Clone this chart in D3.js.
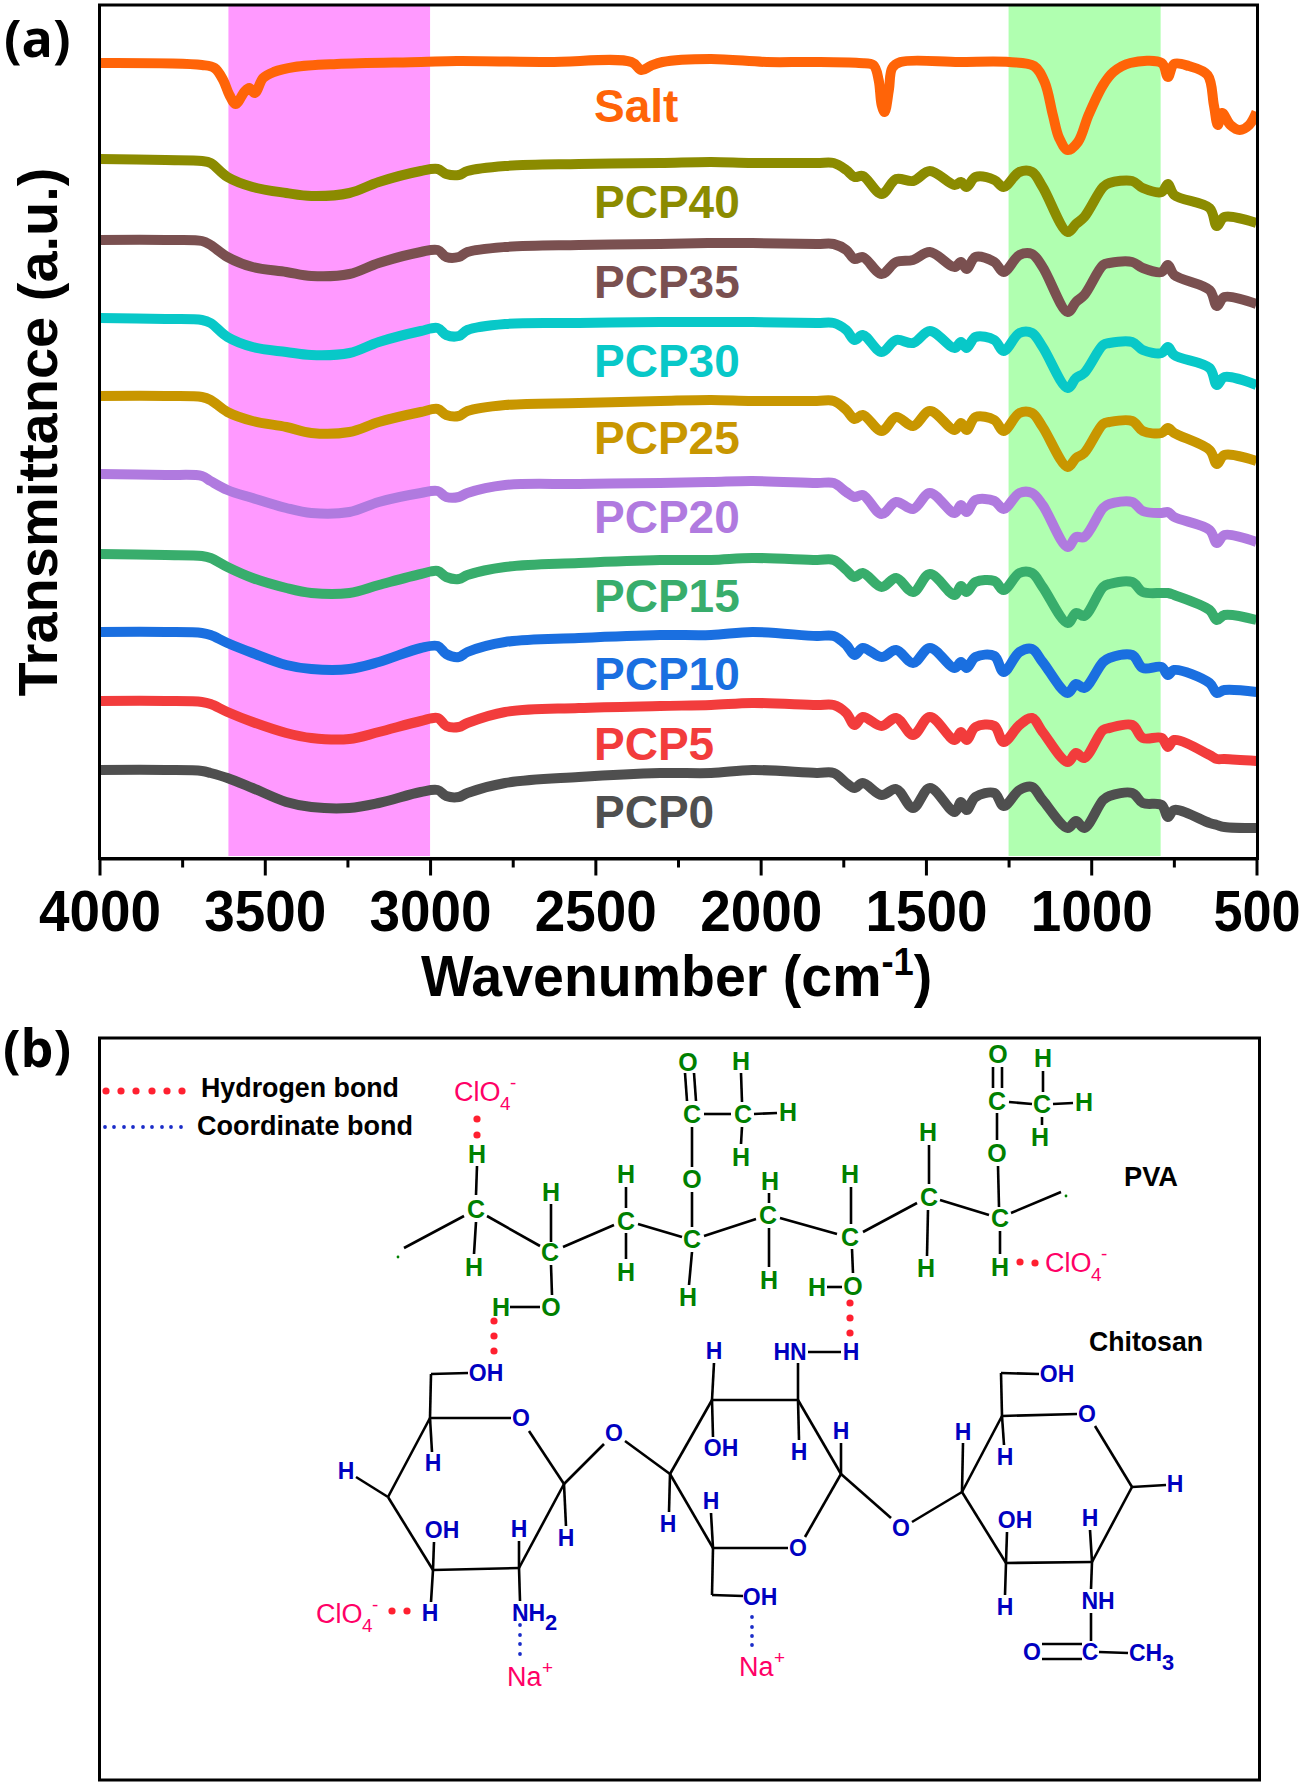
<!DOCTYPE html>
<html>
<head>
<meta charset="utf-8">
<script src="https://cdn.jsdelivr.net/npm/d3@7"></script>
<style>
  html, body { margin: 0; padding: 0; background: #fff; }
  svg { display: block; }
  text { font-family: "Liberation Sans", Arial, sans-serif; }
</style>
</head>
<body>
<svg id="figure" width="1305" height="1785"></svg>
<script>
// === SPECTRA DATA (wavenumber in cm-1, transmittance in stacked a.u.) ===

const wavenumbers = [4000, 3800, 3690, 3664, 3613, 3537, 3435, 3359, 3244, 3155, 3028, 2977, 2951, 2913, 2887, 2773, 2550, 2304,
    2150, 2025, 1830, 1779, 1741, 1716, 1691, 1634, 1590, 1539, 1488, 1413, 1394, 1377, 1350, 1293, 1265, 1217, 1179, 1147,
    1071, 1046, 1021, 964, 945, 876, 844, 787, 768, 749, 642, 620, 597, 500];

const pcp40 = [700,699,698,696,682,672,666,663,666,677,688,690,685,684,688,693,695,696,697,696,696,696,689,682,683,665,680,678,688,674,677,672,682,679,672,687,687,672,627,635,642,672,676,678,671,667,675,664,651,633,642,636];
const pcp35 = [619,619,618,614,602,592,587,583,585,596,607,609,602,602,607,612,614,615,616,616,615,615,609,600,602,585,597,599,607,592,597,590,602,597,587,604,605,592,547,557,564,594,596,597,591,587,594,584,569,553,562,555];
const pcp30 = [541,540,539,536,522,512,507,504,506,517,528,531,524,523,529,535,536,537,537,537,536,536,529,519,524,507,519,516,528,511,517,511,522,519,508,526,526,512,471,481,486,514,516,517,509,506,512,504,491,474,482,474];
const pcp25 = [463,463,462,459,447,438,432,426,427,437,447,450,444,443,448,454,456,458,459,458,458,458,449,440,444,428,442,433,448,429,436,429,442,439,428,446,446,432,392,401,406,435,437,438,428,426,431,426,409,395,404,398];
const pcp20 = [385,384,383,378,369,361,351,346,347,357,366,368,362,362,366,374,375,376,377,378,376,376,367,362,364,345,357,350,366,346,354,347,359,358,350,366,366,354,312,322,322,351,355,357,348,346,347,342,329,316,324,317];
const pcp15 = [305,304,303,301,292,281,271,266,266,274,285,288,282,280,284,292,296,299,299,301,299,299,289,282,286,272,281,267,285,264,273,267,277,278,269,286,286,272,236,246,243,272,275,277,267,266,266,264,249,239,244,239];
const pcp10 = [227,227,226,224,216,206,194,190,190,197,211,213,205,202,207,217,221,224,224,227,223,223,214,204,211,202,209,196,211,191,197,191,202,203,187,207,210,197,166,175,171,197,201,204,191,192,184,189,176,166,169,167];
const pcp5 = [158,158,157,155,147,137,126,121,120,127,138,141,133,132,136,147,151,153,154,156,154,154,146,134,142,133,141,124,142,119,127,119,132,133,117,134,141,127,97,106,101,129,131,134,121,121,112,119,104,100,100,98];
const pcp0 = [89,89,88,86,81,71,57,52,51,56,67,69,63,62,66,76,82,86,86,89,86,86,76,71,76,64,70,51,71,47,57,49,62,66,53,69,72,59,31,38,31,59,63,66,56,54,42,49,36,34,32,31];

// the salt has its own sharp bands, so it gets its own wavenumber list
const saltWavenumbers = [4000,3690,3652,3626,3607,3588,3562,3547,3530,3505,3473,3410,3282,3027,2919,2645,2391,2361,2333,2297,2152,1981,1850,1703,1659,1643,1634,1625,1612,1602,1577,1400,1248,1173,1141,1116,1097,1071,1040,1008,964,933,882,787,768,749,705,648,629,617,604,579,551,522,500];
const salt = [796,794,791,779,764,755,767,771,766,781,787,792,795,797,798,797,797,789,793,797,800,797,797,796,794,779,754,747,769,791,797,797,797,793,777,744,721,709,717,744,774,787,796,796,782,795,793,784,754,734,746,734,729,734,747];

const seriesNames = ["Salt", "PCP40", "PCP35", "PCP30", "PCP25", "PCP20", "PCP15", "PCP10", "PCP5", "PCP0"];
const seriesColors = ["#ff6408", "#8b8b00", "#7a5050", "#08c8c8", "#c89600", "#b07adf", "#38ad6c", "#1a6fe0", "#f23c3c", "#4f4f4f"];
const seriesValues = [salt, pcp40, pcp35, pcp30, pcp25, pcp20, pcp15, pcp10, pcp5, pcp0];
const seriesX = [saltWavenumbers, wavenumbers, wavenumbers, wavenumbers, wavenumbers, wavenumbers, wavenumbers, wavenumbers, wavenumbers, wavenumbers];
const labelHeights = [737, 641, 561, 482, 405, 326, 247, 169, 99, 31];

const bandRanges = [[3610, 3000], [1250, 790]];
const bandColors = ["#ff99ff", "#b0ffb0"];
const majorTicks = [4000, 3500, 3000, 2500, 2000, 1500, 1000, 500];
const minorTicks = [3750, 3250, 2750, 2250, 1750, 1250, 750];

// === SCHEME DATA FOR PANEL (b), drawn in page pixels ===

const pvaAtoms = [
    ["H",477,1154],["C",476,1209],["H",474,1267],["C",550,1252],["H",551,1192],["H",501,1307],["O",551,1307],
    ["C",626,1221],["H",626,1174],["H",626,1272],["O",688,1062],["C",692,1114],["C",743,1114],["H",741,1061],
    ["H",788,1112],["H",741,1157],["O",692,1179],["C",692,1239],["H",688,1297],["C",768,1215],["H",770,1181],
    ["H",769,1280],["C",850,1237],["H",850,1174],["O",853,1286],["H",817,1287],["C",929,1197],["H",928,1132],
    ["H",926,1268],["C",1000,1218],["O",997,1153],["H",1000,1267],["C",997,1101],["O",998,1054],["C",1042,1104],
    ["H",1043,1058],["H",1084,1102],["H",1040,1137]
];
const chitosanAtoms = [
    ["OH",486,1373],["O",521,1418],["H",433,1463],["H",346,1471],["OH",442,1530],["H",430,1613],["H",519,1529],
    ["H",566,1538],["O",614,1433],["H",668,1524],["H",714,1351],["OH",721,1448],["H",711,1501],["OH",760,1597],
    ["HN",790,1352],["H",851,1352],["H",799,1452],["H",841,1431],["O",798,1548],["O",901,1528],["H",963,1432],
    ["OH",1057,1374],["O",1087,1414],["H",1005,1457],["H",1175,1484],["OH",1015,1520],["H",1005,1607],["H",1090,1518],
    ["NH",1098,1601],["C",1090,1652],["O",1032,1652]
];
const bonds = [
    // PVA chain
    [404,1248,464,1216],[477,1166,476,1195],[476,1222,474,1254],[487,1216,540,1246],[551,1204,551,1242],
    [551,1265,552,1295],[510,1307,540,1307],[563,1247,614,1225],[626,1187,626,1208],[626,1233,626,1259],
    [638,1224,682,1237],[685,1073,687,1101],[694,1073,696,1101],[704,1114,731,1114],[741,1073,742,1102],
    [754,1114,777,1113],[742,1127,741,1144],[692,1127,692,1167],[692,1192,692,1227],[692,1252,689,1285],
    [704,1236,756,1219],[769,1193,769,1203],[769,1228,769,1267],[780,1218,837,1234],[851,1187,851,1224],
    [852,1249,853,1273],[827,1287,842,1287],[863,1232,917,1203],[929,1145,929,1184],[928,1210,927,1256],
    [940,1200,989,1215],[998,1166,999,1207],[997,1113,997,1140],[993,1067,993,1088],[1002,1067,1002,1088],
    [1009,1102,1032,1104],[1043,1071,1043,1092],[1053,1104,1073,1103],[1042,1117,1042,1125],[1011,1213,1061,1192],
    [1000,1231,1000,1254],
    // chitosan rings
    [468,1373,431,1374],[431,1374,430,1418],[430,1418,511,1418],[430,1418,432,1452],[430,1418,388,1497],
    [388,1497,356,1477],[388,1497,433,1570],[433,1570,434,1542],[433,1570,519,1568],[433,1570,431,1602],
    [519,1568,519,1541],[519,1568,564,1484],[519,1568,520,1601],[529,1431,564,1484],[564,1484,566,1526],
    [564,1484,604,1444],[625,1441,670,1474],[670,1474,712,1400],[670,1474,669,1512],[670,1474,713,1548],
    [712,1400,714,1363],[712,1400,713,1437],[712,1400,798,1400],[713,1548,711,1513],[713,1548,788,1548],
    [713,1548,712,1595],[712,1595,743,1596],[808,1352,841,1352],[798,1363,798,1400],[798,1400,799,1440],
    [798,1400,841,1474],[841,1474,841,1443],[841,1474,805,1537],[841,1474,891,1518],[912,1522,962,1492],
    [962,1492,1002,1416],[962,1492,963,1443],[962,1492,1006,1563],[1002,1416,1001,1373],[1001,1373,1039,1374],
    [1002,1416,1077,1414],[1002,1416,1004,1445],[1095,1426,1132,1487],[1132,1487,1166,1485],[1132,1487,1092,1562],
    [1006,1563,1092,1562],[1006,1563,1007,1532],[1006,1563,1005,1595],[1092,1562,1090,1530],[1092,1562,1091,1589],
    [1091,1613,1091,1641],[1042,1644,1082,1644],[1042,1659,1082,1659],[1099,1652,1128,1653]
];
const hydrogenDots = [
    [106,1091],[121,1091],[136,1091],[152,1091],[167,1091],[182,1091],[477,1119],[477,1135],
    [494,1321],[494,1336],[494,1351],[850,1303],[850,1318],[850,1333],[1020,1262],[1035,1263],
    [392,1611],[407,1611]
];
const coordinateDots = [
    [105,1127],[114,1127],[124,1127],[133,1127],[143,1127],[152,1127],[162,1127],[171,1127],[181,1127],
    [520,1625],[520,1635],[520,1644],[520,1654],[752,1617],[752,1627],[752,1636],[752,1645]
];
const strayDots = [[398,1257],[1066,1196]];
const perchlorates = [[454,1101],[1045,1272],[316,1623]];
const sodiums = [[507,1686],[739,1676]];
const blackLabels = [
    ["Hydrogen bond",201,1097,198],["Coordinate bond",197,1135,216],
    ["PVA",1124,1186,54],["Chitosan",1089,1351,114]
];

// === PANEL (a) ===

const svg = d3.select("#figure");
const x = d3.scaleLinear().domain([4000, 500]).range([99.5, 1256.5]);
const y = d3.scaleLinear().domain([0, 854]).range([859, 5]);

svg.append("g").selectAll("rect")
    .data(bandRanges).join("rect")
    .attr("x", d => x(d[0]))
    .attr("y", y(854) + 1)
    .attr("width", d => x(d[1]) - x(d[0]))
    .attr("height", y(3) - y(854) - 1)
    .attr("fill", (d, i) => bandColors[i]);

const line = d3.line().curve(d3.curveCatmullRom.alpha(0.5)).x(d => x(d[0])).y(d => y(d[1]));

svg.append("defs").append("clipPath").attr("id", "plot-clip")
    .append("rect").attr("x", 99.5).attr("y", 5).attr("width", 1158).attr("height", 854);

svg.append("g").attr("clip-path", "url(#plot-clip)").selectAll("path")
    .data(seriesNames).join("path")
    .attr("d", (d, i) => line(d3.zip(seriesX[i], seriesValues[i])))
    .attr("fill", "none")
    .attr("stroke", (d, i) => seriesColors[i])
    .attr("stroke-width", 10)
    .attr("stroke-linejoin", "round");

svg.append("g").selectAll("text")
    .data(seriesNames).join("text")
    .attr("x", 594)
    .attr("y", (d, i) => y(labelHeights[i]))
    .attr("font-size", 46).attr("font-weight", "bold")
    .attr("fill", (d, i) => seriesColors[i])
    .text(d => d);

// frame, then the axes on top of it
svg.append("rect").attr("x", 99.5).attr("y", 5).attr("width", 1158).attr("height", 853.5)
    .attr("fill", "none").attr("stroke", "#000").attr("stroke-width", 3);

const axis = svg.append("g").attr("transform", "translate(0,858.5)")
    .call(d3.axisBottom(x).tickValues(majorTicks).tickSize(17).tickSizeOuter(0).tickFormat(d3.format("d")));
axis.selectAll("line").attr("stroke-width", 3);
axis.select(".domain").attr("stroke-width", 3);
// the labels are condensed in the original, the 3 digit one a bit more
axis.selectAll("text").attr("y", 72.5).attr("dy", 0)
    .attr("font-size", 58).attr("font-weight", "bold")
    .attr("transform", d => `scale(${d === 500 ? 0.9 : 0.946},1)`)
    .style("font-family", '"Liberation Sans", Arial, sans-serif').attr("fill", "#000");

svg.append("g").attr("transform", "translate(0,858.5)")
    .call(d3.axisBottom(x).tickValues(minorTicks).tickSize(9).tickSizeOuter(0).tickFormat(""))
    .call(g => g.select(".domain").remove())
    .selectAll("line").attr("stroke-width", 3);

const xTitle = svg.append("text").attr("transform", "translate(421,996) scale(0.957,1)")
    .attr("font-size", 58).attr("font-weight", "bold");
xTitle.append("tspan").text("Wavenumber (cm");
xTitle.append("tspan").attr("dy", -21).attr("font-size", 38).text("-1");
xTitle.append("tspan").attr("dy", 21).text(")");

svg.append("text")
    .attr("transform", "translate(57,432) rotate(-90)")
    .attr("text-anchor", "middle")
    .attr("font-size", 55).attr("font-weight", "bold")
    .attr("textLength", 529).attr("lengthAdjust", "spacingAndGlyphs")
    .text("Transmittance (a.u.)");

svg.append("g").selectAll("text")
    .data([["(a)", 4, 57], ["(b)", 3, 1067]]).join("text")
    .attr("x", d => d[1]).attr("y", d => d[2])
    .attr("font-size", 52).attr("font-weight", "bold")
    .style("font-family", '"Open Sans", sans-serif')
    .text(d => d[0]);

// === PANEL (b) ===

svg.append("rect").attr("x", 99.5).attr("y", 1038).attr("width", 1160).attr("height", 742)
    .attr("fill", "none").attr("stroke", "#000").attr("stroke-width", 3);

svg.append("g").selectAll("line")
    .data(bonds).join("line")
    .attr("x1", d => d[0]).attr("y1", d => d[1])
    .attr("x2", d => d[2]).attr("y2", d => d[3])
    .attr("stroke", "#000").attr("stroke-width", 2.6);

function drawAtoms(atoms, color, size) {
    svg.append("g").selectAll("text")
        .data(atoms).join("text")
        .attr("x", d => d[1])
        .attr("y", d => d[2] + size * 0.36)
        .attr("text-anchor", "middle")
        .attr("font-size", size).attr("font-weight", "bold")
        .attr("fill", color)
        .text(d => d[0]);
}
drawAtoms(pvaAtoms, "#008000", 25);
drawAtoms(chitosanAtoms, "#0000c0", 23);

function drawDots(dots, color, r) {
    svg.append("g").selectAll("circle")
        .data(dots).join("circle")
        .attr("cx", d => d[0]).attr("cy", d => d[1]).attr("r", r)
        .attr("fill", color);
}
drawDots(hydrogenDots, "#ff2030", 3.6);
drawDots(coordinateDots, "#1a2cc8", 1.9);
drawDots(strayDots, "#008000", 1.4);

svg.append("g").selectAll("text")
    .data(blackLabels).join("text")
    .attr("x", d => d[1]).attr("y", d => d[2])
    .attr("font-size", 28).attr("font-weight", "bold")
    .attr("textLength", d => d[3]).attr("lengthAdjust", "spacingAndGlyphs")
    .text(d => d[0]);

// small formula helper: main text plus optional subscript and superscript
function drawFormula(px, py, main, width, sub, sup, color, size, weight, subScale) {
    const g = svg.append("g").attr("fill", color).attr("font-weight", weight);
    g.append("text").attr("x", px).attr("y", py).attr("font-size", size).text(main);
    if (sub) g.append("text").attr("x", px + width).attr("y", py + 9).attr("font-size", size * subScale).text(sub);
    if (sup) g.append("text").attr("x", px + width + (sub ? 10 : 2)).attr("y", py - 12).attr("font-size", size * 0.7).text(sup);
}
perchlorates.forEach(p => drawFormula(p[0], p[1], "ClO", 46, "4", "-", "#ff0066", 27, "normal", 0.7));
sodiums.forEach(p => drawFormula(p[0], p[1], "Na", 33, null, "+", "#ff0066", 27, "normal", 0.7));
drawFormula(512, 1621, "NH", 33, "2", null, "#0000c0", 23, "bold", 0.95);
drawFormula(1129, 1661, "CH", 33, "3", null, "#0000c0", 23, "bold", 0.95);
</script>
</body>
</html>
